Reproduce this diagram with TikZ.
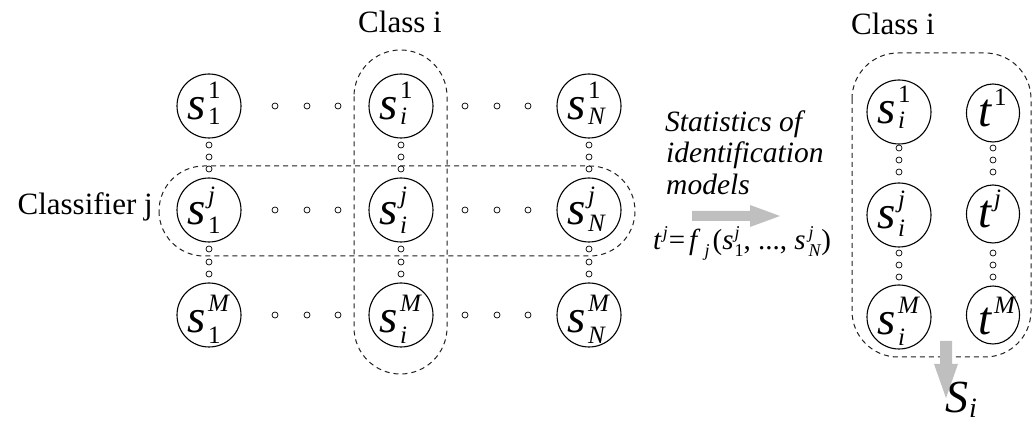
\documentclass[tikz,border=0pt]{standalone}
\usepackage{fontspec}
\setmainfont{Liberation Serif}[ItalicFont={Liberation Serif Italic}]
\usetikzlibrary{shapes.geometric}
\definecolor{arrowgray}{RGB}{191,191,191}
\definecolor{dashgray}{RGB}{30,30,30}
\newcommand{\bigf}{\fontsize{47}{47}\selectfont}
\newcommand{\smf}{\fontsize{25}{25}\selectfont}
\newcommand{\clf}{\fontsize{31}{31}\selectfont}
\newcommand{\itf}{\fontsize{29.5}{29.5}\selectfont\itshape}
\newcommand{\eqf}{\fontsize{29}{29}\selectfont}
\newcommand{\eqs}{\fontsize{18}{18}\selectfont}
% base, sup, sub, base offset, sub offset
\newcommand{\slab}[5]{\raisebox{-#4pt}{\bigf\textit{#1}\kern2pt\rlap{\raisebox{21pt}{\smf #2}}\rlap{\raisebox{-#5pt}{\smf #3}}\kern22pt}}
\newcommand{\tlab}[3]{\raisebox{-#3pt}{\bigf\textit{#1}\kern2pt\rlap{\raisebox{21pt}{\smf #2}}\kern14pt}}
\tikzset{
  cnode/.style={circle,draw,line width=1.1pt,minimum size=64pt,inner sep=0pt,text height=0pt,text depth=0pt},
  tnode/.style={ellipse,draw,line width=1.1pt,minimum width=53pt,minimum height=58pt,inner sep=0pt,text height=0pt,text depth=0pt},
  dotnode/.style={circle,draw,line width=0.7pt,minimum size=6pt,inner sep=0pt,fill=white},
  grp/.style={draw=dashgray,dash pattern=on 5pt off 4pt,line width=1pt},
  txt/.style={inner sep=0pt}
}
\begin{document}
\begin{tikzpicture}[x=1pt,y=-1pt]
\useasboundingbox (0,0) rectangle (1034,427);

% dashed groups
\draw[grp, rounded corners=46.5pt] (354,50) rectangle (447,374);
\draw[grp, rounded corners=45pt] (159,166) rectangle (635,256);
\draw[grp, rounded corners=46pt] (852,53) rectangle (1031,357);

% left matrix of circles
\node[cnode] (a1) at (209,106) {\slab{s}{1}{1}{14}{5}};
\node[cnode] (ai) at (401,106) {\slab{s}{1}{\textit{i}}{14}{5}};
\node[cnode] (aN) at (589,106) {\slab{s}{1}{\textit{N}}{14}{5}};
\node[cnode] (j1) at (209,210) {\slab{s}{\textit{j}}{1}{15}{9}};
\node[cnode] (ji) at (401,210) {\slab{s}{\textit{j}}{\textit{i}}{15}{9}};
\node[cnode] (jN) at (589,210) {\slab{s}{\textit{j}}{\textit{N}}{15}{7}};
\node[cnode] (m1) at (209,315) {\slab{s}{\textit{M}}{1}{18}{11}};
\node[cnode] (mi) at (401,315) {\slab{s}{\textit{M}}{\textit{i}}{18}{11}};
\node[cnode] (mN) at (589,315) {\slab{s}{\textit{M}}{\textit{N}}{18}{11}};

% right class column
\node[cnode] (r1) at (899,112) {\slab{s}{1}{\textit{i}}{12}{5}};
\node[cnode] (rj) at (899,215) {\slab{s}{\textit{j}}{\textit{i}}{14}{8}};
\node[cnode] (rm) at (899,317) {\slab{s}{\textit{M}}{\textit{i}}{18}{11}};
\node[tnode] (t1) at (993,113) {\tlab{t}{1}{14}};
\node[tnode] (tj) at (993,214) {\tlab{t}{\textit{j}}{14}};
\node[tnode] (tm) at (993,315) {\tlab{t}{\textit{M}}{20}};

% horizontal dots
\foreach \r/\y in {1/106,2/210,3/315}{
  \foreach \k/\x in {1/275,2/307,3/338,4/465,5/497,6/528}{
    \node[dotnode] (h\r\k) at (\x,\y) {};
  }
}
% vertical dots (left)
\foreach \c/\x in {1/209,2/401,3/589}{
  \foreach \k/\y in {1/145,2/157,3/169,4/249,5/262,6/274}{
    \node[dotnode] (v\c\k) at (\x,\y) {};
  }
}
% vertical dots (right)
\foreach \c/\x in {4/899,5/993}{
  \foreach \k/\y in {1/148,2/160,3/172,4/253,5/265,6/277}{
    \node[dotnode] (v\c\k) at (\x,\y) {};
  }
}

% texts
\node[txt,anchor=base,font=\clf] (cls) at (400,33) {Class i};
\node[txt,anchor=base,font=\clf] (cls2) at (893,35) {Class i};
\node[txt,anchor=base east,font=\clf] (clf) at (153,215) {Classifier j};
\node[txt,anchor=base west,font=\itf] (st1) at (665,132) {Statistics of};
\node[txt,anchor=base west,font=\itf] (st2) at (666,163) {identification};
\node[txt,anchor=base west,font=\itf] (st3) at (666,195) {models};
\node[txt,anchor=base west,font=\eqf] (eq) at (653,250) {\textit{t}\kern1pt\raisebox{11pt}{\eqs\textit{j}}\kern1pt=\kern4pt\textit{f}\kern4pt\raisebox{-7pt}{\eqs\textit{j}}\kern3pt(\textit{s}\kern1pt\rlap{\raisebox{11pt}{\eqs\textit{j}}}\raisebox{-7pt}{\eqs 1}, ..., \textit{s}\kern3pt\rlap{\raisebox{11pt}{\eqs\textit{j}}}\raisebox{-7pt}{\eqs\textit{N}})};

% arrows
\coordinate (ha) at (692,216);
\fill[arrowgray] (ha) ++(0,-5) -- ++(58,0) -- ++(0,-6) -- ++(30,11) -- ++(-30,11) -- ++(0,-6) -- ++(-58,0) -- cycle;
\coordinate (va) at (946,341);
\fill[arrowgray] (va) ++(-6,0) -- ++(12,0) -- ++(0,23) -- ++(6,0) -- ++(-12,34) -- ++(-12,-34) -- ++(6,0) -- cycle;
\node[txt,anchor=base west] (Si) at (945,413) {\fontsize{46}{46}\selectfont\textit{S}\kern1pt\raisebox{-5pt}{\fontsize{28}{28}\selectfont\textit{i}}};
\end{tikzpicture}
\end{document}
